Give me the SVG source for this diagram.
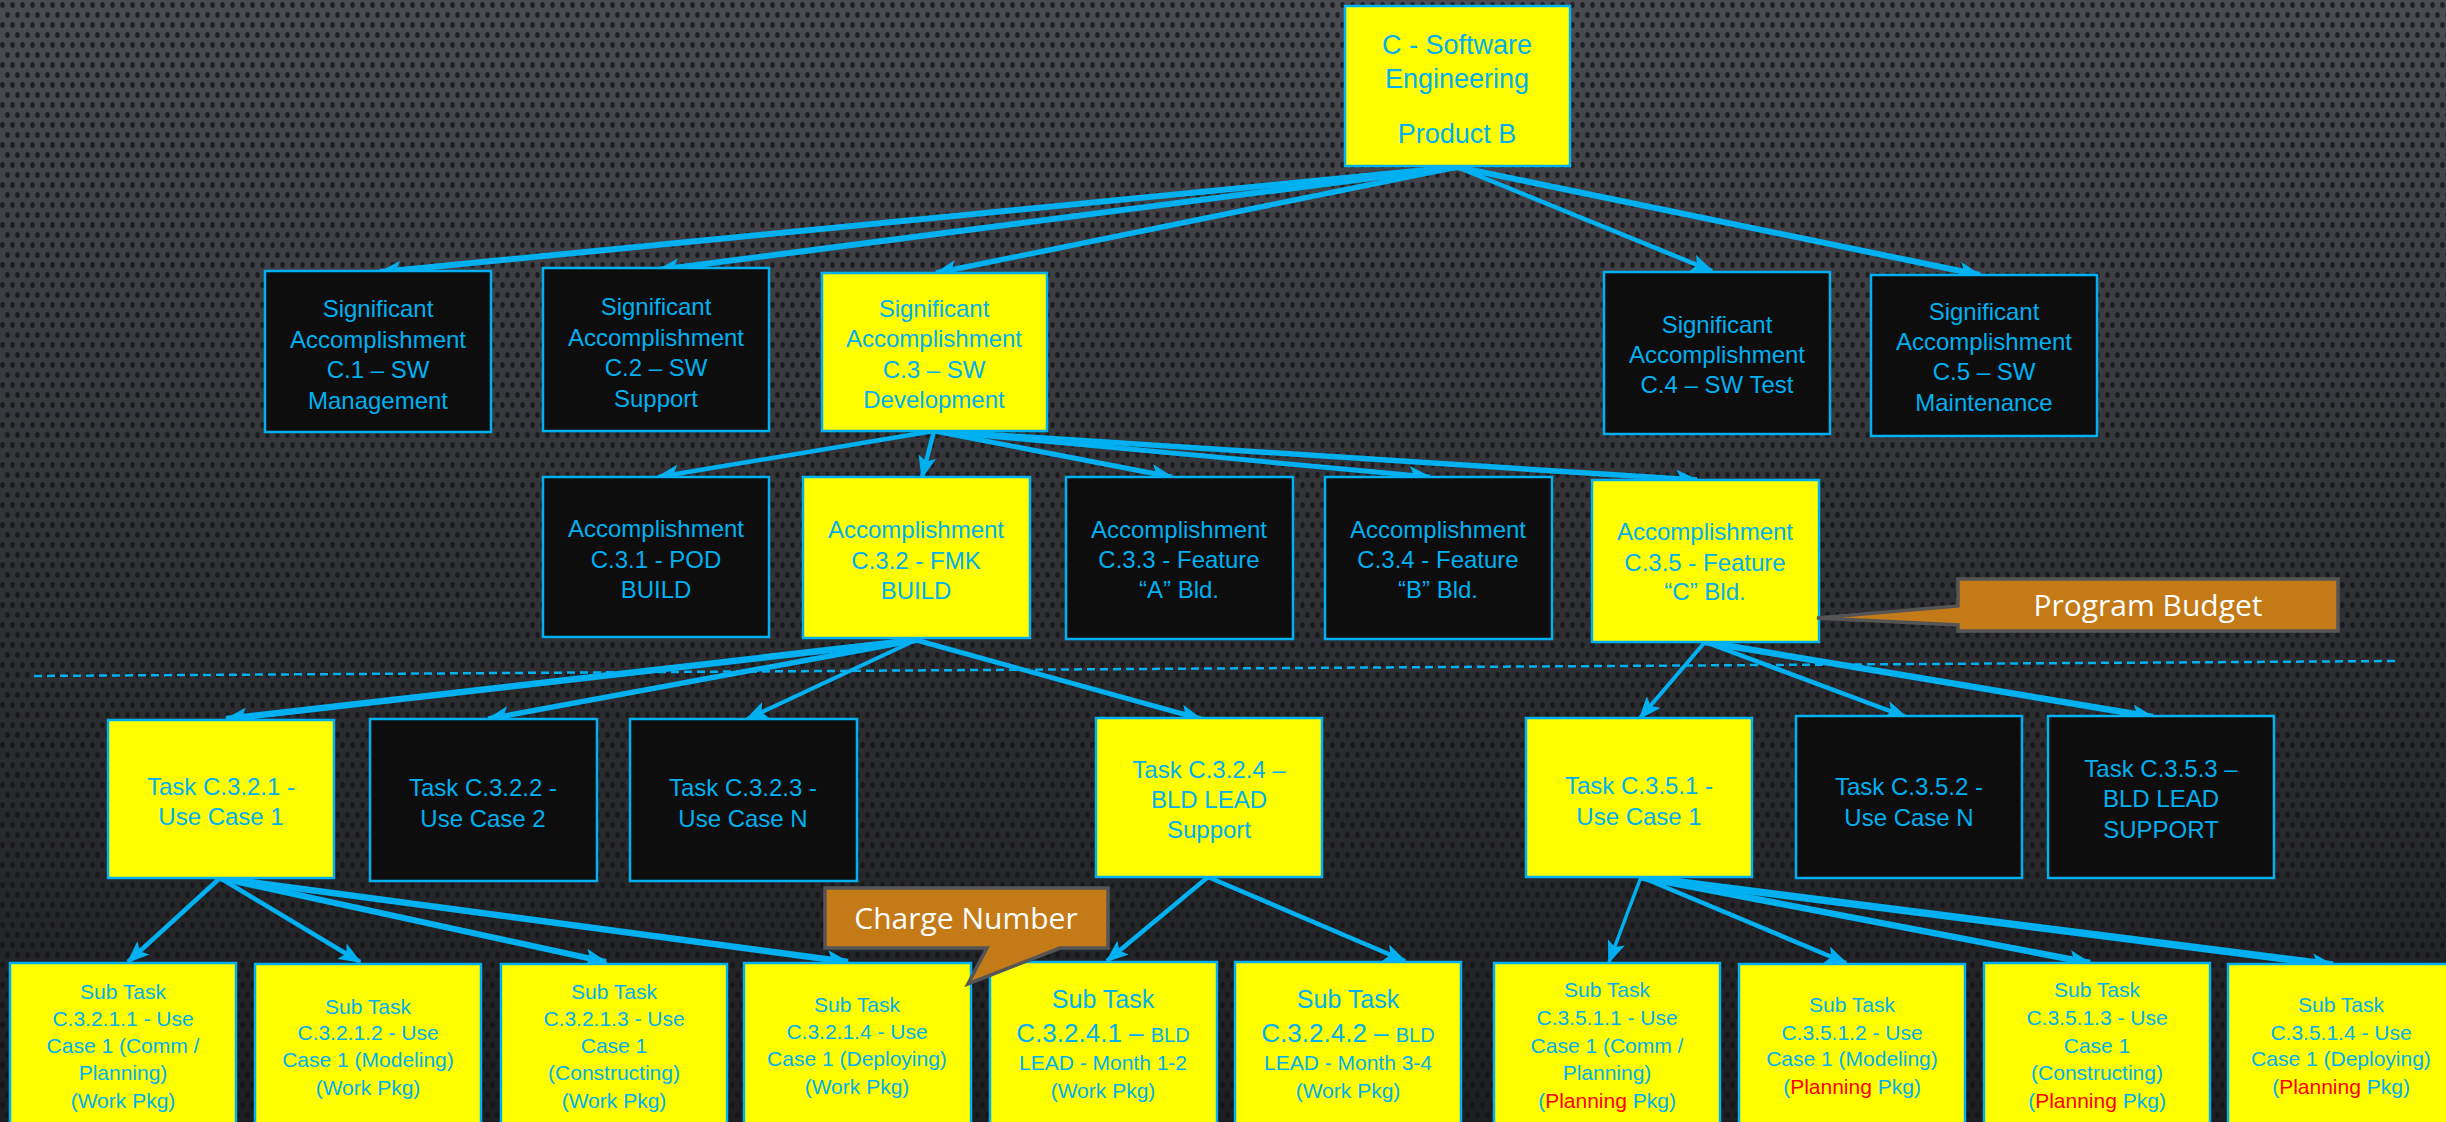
<svg xmlns="http://www.w3.org/2000/svg" width="2446" height="1122" viewBox="0 0 2446 1122">
<defs>
<linearGradient id="bg" x1="0" y1="0" x2="0" y2="1">
<stop offset="0" stop-color="#4a4c52"/>
<stop offset="0.45" stop-color="#323438"/>
<stop offset="1" stop-color="#1d1e21"/>
</linearGradient>
<pattern id="dots" width="10" height="20" patternUnits="userSpaceOnUse">
<ellipse cx="2.5" cy="5" rx="2.3" ry="3" fill="#121315" fill-opacity="0.75"/>
<ellipse cx="7.5" cy="15" rx="2.3" ry="3" fill="#121315" fill-opacity="0.75"/>
</pattern>
<marker id="arr" markerUnits="userSpaceOnUse" markerWidth="24" markerHeight="18" refX="21" refY="9" orient="auto" viewBox="0 0 24 18">
<path d="M0,0 L23,9 L0,18 L5,9 Z" fill="#00B0F0"/>
</marker>
<style>
.box{stroke:#00B0F0;stroke-width:2.5}
.y{fill:#FFFF00}
.k{fill:#0D0D0D}
.t{font-family:"Liberation Sans",Arial,sans-serif;fill:#00B0F0;text-anchor:middle}
.f24{font-size:24px}
.f21{font-size:21px}
.f27{font-size:27px}
.red{fill:#FF0000}
.c line{stroke:#00B0F0;marker-end:url(#arr)}
.call{fill:#C47A16;stroke:#555555;stroke-width:3.5;stroke-linejoin:miter}
.ct{font-family:"Open Sans","DejaVu Sans",sans-serif;font-size:30px;fill:#FFFFFF;text-anchor:middle}
</style>
</defs>
<rect width="2446" height="1122" fill="url(#bg)"/>
<rect width="2446" height="1122" fill="url(#dots)"/>

<line x1="34" y1="676" x2="2396" y2="661" stroke="#00B0F0" stroke-width="2.5" stroke-dasharray="8 5"/>

<g id="connectors" class="c">
<line x1="1457" y1="167" x2="380" y2="272" stroke-width="6"/>
<line x1="1457" y1="167" x2="658" y2="270" stroke-width="6"/>
<line x1="1457" y1="167" x2="936" y2="273" stroke-width="5.5"/>
<line x1="1457" y1="167" x2="1712" y2="271" stroke-width="4.5"/>
<line x1="1457" y1="167" x2="1980" y2="275" stroke-width="6"/>
<line x1="934" y1="431" x2="658" y2="477" stroke-width="4.5"/>
<line x1="934" y1="431" x2="922" y2="477" stroke-width="4.5"/>
<line x1="934" y1="431" x2="1172" y2="477" stroke-width="5"/>
<line x1="934" y1="431" x2="1430" y2="477" stroke-width="5"/>
<line x1="934" y1="431" x2="1697" y2="480" stroke-width="5.5"/>
<line x1="916" y1="640" x2="226" y2="719" stroke-width="6.5"/>
<line x1="916" y1="640" x2="488" y2="719" stroke-width="5.5"/>
<line x1="916" y1="640" x2="747" y2="719" stroke-width="4"/>
<line x1="916" y1="640" x2="1201" y2="719" stroke-width="5"/>
<line x1="1705" y1="642" x2="1640" y2="718" stroke-width="4"/>
<line x1="1705" y1="642" x2="1906" y2="717" stroke-width="4.5"/>
<line x1="1705" y1="642" x2="2153" y2="717" stroke-width="6.5"/>
<line x1="220" y1="878" x2="128" y2="962" stroke-width="4.5"/>
<line x1="220" y1="878" x2="360" y2="962" stroke-width="4.5"/>
<line x1="220" y1="878" x2="606" y2="962" stroke-width="6"/>
<line x1="220" y1="878" x2="848" y2="962" stroke-width="6.5"/>
<line x1="1208" y1="877" x2="1107" y2="961" stroke-width="4.5"/>
<line x1="1208" y1="877" x2="1405" y2="961" stroke-width="4.5"/>
<line x1="1641" y1="877" x2="1609" y2="962" stroke-width="3.5"/>
<line x1="1641" y1="877" x2="1846" y2="963" stroke-width="4.5"/>
<line x1="1641" y1="877" x2="2090" y2="963" stroke-width="6.5"/>
<line x1="1641" y1="877" x2="2333" y2="965" stroke-width="7.5"/>
</g>

<g id="root">
<rect class="box y" x="1345" y="6" width="225" height="160"/>
<text class="t f27" x="1457" y="54">C - Software</text>
<text class="t f27" x="1457" y="88">Engineering</text>
<text class="t f27" x="1457" y="143">Product B</text>
</g>

<g id="sa-c1">
<rect class="box k" x="265" y="271" width="226" height="161"/>
<text class="t f24" x="378" y="317">Significant</text>
<text class="t f24" x="378" y="348">Accomplishment</text>
<text class="t f24" x="378" y="378">C.1 – SW</text>
<text class="t f24" x="378" y="409">Management</text>
</g>
<g id="sa-c2">
<rect class="box k" x="543" y="268" width="226" height="163"/>
<text class="t f24" x="656" y="315">Significant</text>
<text class="t f24" x="656" y="346">Accomplishment</text>
<text class="t f24" x="656" y="376">C.2 – SW</text>
<text class="t f24" x="656" y="407">Support</text>
</g>
<g id="sa-c3">
<rect class="box y" x="822" y="273" width="225" height="158"/>
<text class="t f24" x="934" y="317">Significant</text>
<text class="t f24" x="934" y="347">Accomplishment</text>
<text class="t f24" x="934" y="378">C.3 – SW</text>
<text class="t f24" x="934" y="408">Development</text>
</g>
<g id="sa-c4">
<rect class="box k" x="1604" y="272" width="226" height="162"/>
<text class="t f24" x="1717" y="333">Significant</text>
<text class="t f24" x="1717" y="363">Accomplishment</text>
<text class="t f24" x="1717" y="393">C.4 – SW Test</text>
</g>
<g id="sa-c5">
<rect class="box k" x="1871" y="275" width="226" height="161"/>
<text class="t f24" x="1984" y="320">Significant</text>
<text class="t f24" x="1984" y="350">Accomplishment</text>
<text class="t f24" x="1984" y="380">C.5 – SW</text>
<text class="t f24" x="1984" y="411">Maintenance</text>
</g>

<g id="a-c31">
<rect class="box k" x="543" y="477" width="226" height="160"/>
<text class="t f24" x="656" y="537">Accomplishment</text>
<text class="t f24" x="656" y="568">C.3.1 - POD</text>
<text class="t f24" x="656" y="598">BUILD</text>
</g>
<g id="a-c32">
<rect class="box y" x="803" y="477" width="227" height="161"/>
<text class="t f24" x="916" y="538">Accomplishment</text>
<text class="t f24" x="916" y="569">C.3.2 - FMK</text>
<text class="t f24" x="916" y="599">BUILD</text>
</g>
<g id="a-c33">
<rect class="box k" x="1066" y="477" width="227" height="162"/>
<text class="t f24" x="1179" y="538">Accomplishment</text>
<text class="t f24" x="1179" y="568">C.3.3 - Feature</text>
<text class="t f24" x="1179" y="598">“A” Bld.</text>
</g>
<g id="a-c34">
<rect class="box k" x="1325" y="477" width="227" height="162"/>
<text class="t f24" x="1438" y="538">Accomplishment</text>
<text class="t f24" x="1438" y="568">C.3.4 - Feature</text>
<text class="t f24" x="1438" y="598">“B” Bld.</text>
</g>
<g id="a-c35">
<rect class="box y" x="1592" y="480" width="227" height="162"/>
<text class="t f24" x="1705" y="540">Accomplishment</text>
<text class="t f24" x="1705" y="571">C.3.5 - Feature</text>
<text class="t f24" x="1705" y="600">“C” Bld.</text>
</g>

<g id="callout-budget">
<path class="call" d="M1958,579 H2338 V631 H1958 V625 L1817,618 L1958,606 Z"/>
<text class="ct" x="2148" y="616">Program Budget</text>
</g>

<g id="t-c321">
<rect class="box y" x="108" y="720" width="226" height="158"/>
<text class="t f24" x="221" y="795">Task C.3.2.1 -</text>
<text class="t f24" x="221" y="825">Use Case 1</text>
</g>
<g id="t-c322">
<rect class="box k" x="370" y="719" width="227" height="162"/>
<text class="t f24" x="483" y="796">Task C.3.2.2 -</text>
<text class="t f24" x="483" y="827">Use Case 2</text>
</g>
<g id="t-c323">
<rect class="box k" x="630" y="719" width="227" height="162"/>
<text class="t f24" x="743" y="796">Task C.3.2.3 -</text>
<text class="t f24" x="743" y="827">Use Case N</text>
</g>
<g id="t-c324">
<rect class="box y" x="1096" y="718" width="226" height="159"/>
<text class="t f24" x="1209" y="778">Task C.3.2.4 –</text>
<text class="t f24" x="1209" y="808">BLD LEAD</text>
<text class="t f24" x="1209" y="838">Support</text>
</g>
<g id="t-c351">
<rect class="box y" x="1526" y="718" width="226" height="159"/>
<text class="t f24" x="1639" y="794">Task C.3.5.1 -</text>
<text class="t f24" x="1639" y="825">Use Case 1</text>
</g>
<g id="t-c352">
<rect class="box k" x="1796" y="716" width="226" height="162"/>
<text class="t f24" x="1909" y="795">Task C.3.5.2 -</text>
<text class="t f24" x="1909" y="826">Use Case N</text>
</g>
<g id="t-c353">
<rect class="box k" x="2048" y="716" width="226" height="162"/>
<text class="t f24" x="2161" y="777">Task C.3.5.3 –</text>
<text class="t f24" x="2161" y="807">BLD LEAD</text>
<text class="t f24" x="2161" y="838">SUPPORT</text>
</g>

<g id="s-c3211">
<rect class="box y" x="10" y="963" width="226" height="175"/>
<text class="t f21" x="123" y="999">Sub Task</text>
<text class="t f21" x="123" y="1026">C.3.2.1.1 - Use</text>
<text class="t f21" x="123" y="1053">Case 1 (Comm /</text>
<text class="t f21" x="123" y="1080">Planning)</text>
<text class="t f21" x="123" y="1108">(Work Pkg)</text>
</g>
<g id="s-c3212">
<rect class="box y" x="255" y="964" width="226" height="175"/>
<text class="t f21" x="368" y="1014">Sub Task</text>
<text class="t f21" x="368" y="1040">C.3.2.1.2 - Use</text>
<text class="t f21" x="368" y="1067">Case 1 (Modeling)</text>
<text class="t f21" x="368" y="1095">(Work Pkg)</text>
</g>
<g id="s-c3213">
<rect class="box y" x="501" y="964" width="226" height="175"/>
<text class="t f21" x="614" y="999">Sub Task</text>
<text class="t f21" x="614" y="1026">C.3.2.1.3 - Use</text>
<text class="t f21" x="614" y="1053">Case 1</text>
<text class="t f21" x="614" y="1080">(Constructing)</text>
<text class="t f21" x="614" y="1108">(Work Pkg)</text>
</g>
<g id="s-c3214">
<rect class="box y" x="744" y="963" width="227" height="175"/>
<text class="t f21" x="857" y="1012">Sub Task</text>
<text class="t f21" x="857" y="1039">C.3.2.1.4 - Use</text>
<text class="t f21" x="857" y="1066">Case 1 (Deploying)</text>
<text class="t f21" x="857" y="1094">(Work Pkg)</text>
</g>
<g id="s-c3241">
<rect class="box y" x="990" y="962" width="227" height="175"/>
<text class="t" x="1103" y="1008" font-size="25">Sub Task</text>
<text class="t" x="1103" y="1042" font-size="26">C.3.2.4.1 – <tspan font-size="20">BLD</tspan></text>
<text class="t f21" x="1103" y="1070">LEAD - Month 1-2</text>
<text class="t f21" x="1103" y="1098">(Work Pkg)</text>
</g>
<g id="s-c3242">
<rect class="box y" x="1235" y="962" width="226" height="175"/>
<text class="t" x="1348" y="1008" font-size="25">Sub Task</text>
<text class="t" x="1348" y="1042" font-size="26">C.3.2.4.2 – <tspan font-size="20">BLD</tspan></text>
<text class="t f21" x="1348" y="1070">LEAD - Month 3-4</text>
<text class="t f21" x="1348" y="1098">(Work Pkg)</text>
</g>
<g id="s-c3511">
<rect class="box y" x="1494" y="963" width="226" height="175"/>
<text class="t f21" x="1607" y="997">Sub Task</text>
<text class="t f21" x="1607" y="1025">C.3.5.1.1 - Use</text>
<text class="t f21" x="1607" y="1053">Case 1 (Comm /</text>
<text class="t f21" x="1607" y="1080">Planning)</text>
<text class="t f21" x="1607" y="1108">(<tspan class="red">Planning</tspan> Pkg)</text>
</g>
<g id="s-c3512">
<rect class="box y" x="1739" y="964" width="226" height="175"/>
<text class="t f21" x="1852" y="1012">Sub Task</text>
<text class="t f21" x="1852" y="1040">C.3.5.1.2 - Use</text>
<text class="t f21" x="1852" y="1066">Case 1 (Modeling)</text>
<text class="t f21" x="1852" y="1094">(<tspan class="red">Planning</tspan> Pkg)</text>
</g>
<g id="s-c3513">
<rect class="box y" x="1984" y="963" width="226" height="175"/>
<text class="t f21" x="2097" y="997">Sub Task</text>
<text class="t f21" x="2097" y="1025">C.3.5.1.3 - Use</text>
<text class="t f21" x="2097" y="1053">Case 1</text>
<text class="t f21" x="2097" y="1080">(Constructing)</text>
<text class="t f21" x="2097" y="1108">(<tspan class="red">Planning</tspan> Pkg)</text>
</g>
<g id="s-c3514">
<rect class="box y" x="2228" y="964" width="226" height="175"/>
<text class="t f21" x="2341" y="1012">Sub Task</text>
<text class="t f21" x="2341" y="1040">C.3.5.1.4 - Use</text>
<text class="t f21" x="2341" y="1066">Case 1 (Deploying)</text>
<text class="t f21" x="2341" y="1094">(<tspan class="red">Planning</tspan> Pkg)</text>
</g>

<g id="callout-charge">
<path class="call" d="M825,888 H1108 V948 H1060 L968,984 L987,948 H825 Z"/>
<text class="ct" x="966" y="929">Charge Number</text>
</g>
</svg>
